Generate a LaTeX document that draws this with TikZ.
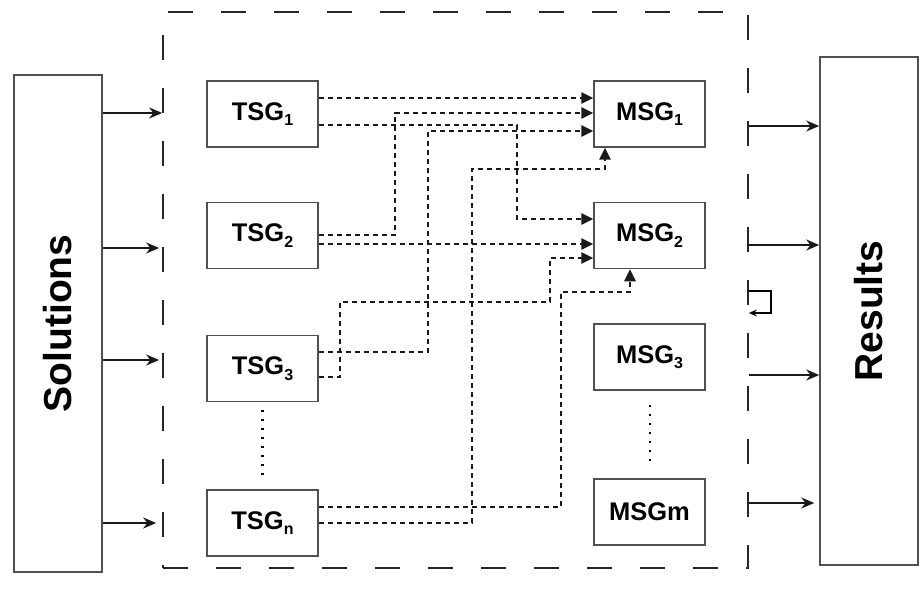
\documentclass[tikz,border=0pt]{standalone}
\usepackage{fontspec}
\setmainfont{Liberation Sans}
\usetikzlibrary{arrows.meta}
\definecolor{boxgray}{HTML}{505050}
\newcommand{\glbl}[2]{\fontsize{25.5}{28}\selectfont\bfseries #1\raisebox{-5.5pt}{\fontsize{16}{16}\selectfont #2}}
\newcommand{\biglbl}[1]{\rotatebox{90}{\fontsize{39}{40}\selectfont\bfseries #1}}
\begin{document}
\begin{tikzpicture}[x=1pt,y=-1pt,
  gbox/.style={draw=boxgray, line width=1.5pt, fill=white, inner sep=0pt,
    minimum width=111pt, minimum height=66pt},
  tall/.style={draw=boxgray, line width=1.5pt, fill=white, inner sep=0pt,
    minimum width=88pt},
  frame/.style={draw=black!85, line width=1.7pt, dash pattern=on 25pt off 28pt,
    inner sep=0pt, minimum width=585pt, minimum height=556pt},
  conn/.style={draw=black!90, line width=2.6pt, dash pattern=on 5pt off 4pt,
    -{Triangle[length=12pt,width=11pt]}},
  sarrow/.style={draw=black!90, line width=1.8pt, -{Stealth[length=13pt,width=11pt]}},
  dotline/.style={line width=2.4pt, dash pattern=on 2pt off 7pt},
]
\useasboundingbox (0,0) rectangle (920,596);

\node[frame] (frame) at (455.5,290) {};
\node[tall, minimum height=497pt] (Sol) at (58,323.5) {\biglbl{Solutions}};
\node[tall, minimum width=98pt, minimum height=508pt] (Res) at (869,311) {\biglbl{Results}};

\node[gbox] (TSG1) at (262.5,114) {\glbl{TSG}{1}};
\node[gbox] (TSG2) at (262.5,235.5) {\glbl{TSG}{2}};
\node[gbox] (TSG3) at (262.5,368.5) {\glbl{TSG}{3}};
\node[gbox] (TSGn) at (262.5,523) {\glbl{TSG}{n}};

\node[gbox] (MSG1) at (649.5,114) {\glbl{MSG}{1}};
\node[gbox] (MSG2) at (649.5,235.5) {\glbl{MSG}{2}};
\node[gbox] (MSG3) at (649.5,357) {\glbl{MSG}{3}};
\node[gbox] (MSGm) at (649.5,512) {\fontsize{25.5}{28}\selectfont\bfseries MSGm};

% dotted continuation marks
\draw[dotline] ([yshift=-8pt]TSG3.south) -- ([yshift=12pt]TSGn.north);
\draw[dotline, line width=2pt] ([yshift=-14pt]MSG3.south) -- ([yshift=12pt]MSGm.north);

% dashed connectors
\draw[conn] (TSG1.east |- 0,98) -- (MSG1.west |- 0,98);
\draw[conn] (TSG1.east |- 0,125) -| (517,219) -- (MSG2.west |- 0,219);
\draw[conn] (TSG2.east |- 0,235) -| (395,113) -- (MSG1.west |- 0,113);
\draw[conn] (TSG2.east |- 0,244) -- (MSG2.west |- 0,244);
\draw[conn] (TSG3.east |- 0,352) -| (428,131) -- (MSG1.west |- 0,131);
\draw[conn] (TSG3.east |- 0,377) -| (340,302) -| (550,258) -- (MSG2.west |- 0,258);
\draw[conn] (TSGn.east |- 0,507) -| (561,292) -| (630,0 |- MSG2.south);
\draw[conn] (TSGn.east |- 0,523) -| (472,169) -| (605,0 |- MSG1.south);

% input arrows
\draw[sarrow] (Sol.east |- 0,113) -- (frame.west |- 0,113);
\draw[sarrow, shorten >=3pt] (Sol.east |- 0,248) -- (frame.west |- 0,248);
\draw[sarrow, shorten >=3pt] (Sol.east |- 0,360) -- (frame.west |- 0,360);
\draw[sarrow, shorten >=6pt] (Sol.east |- 0,523) -- (frame.west |- 0,523);

% output arrows
\draw[sarrow] (frame.east |- 0,126) -- (Res.west |- 0,126);
\draw[sarrow] (frame.east |- 0,245) -- (Res.west |- 0,245);
\draw[sarrow] (frame.east |- 0,375) -- (Res.west |- 0,375);
\draw[sarrow, shorten >=5pt] (frame.east |- 0,503) -- (Res.west |- 0,503);
\draw[line width=1.5pt, -{Stealth[length=8pt,width=7pt]}]
  (frame.east |- 0,291) -| (771,313) -- (frame.east |- 0,313);
\end{tikzpicture}
\end{document}
